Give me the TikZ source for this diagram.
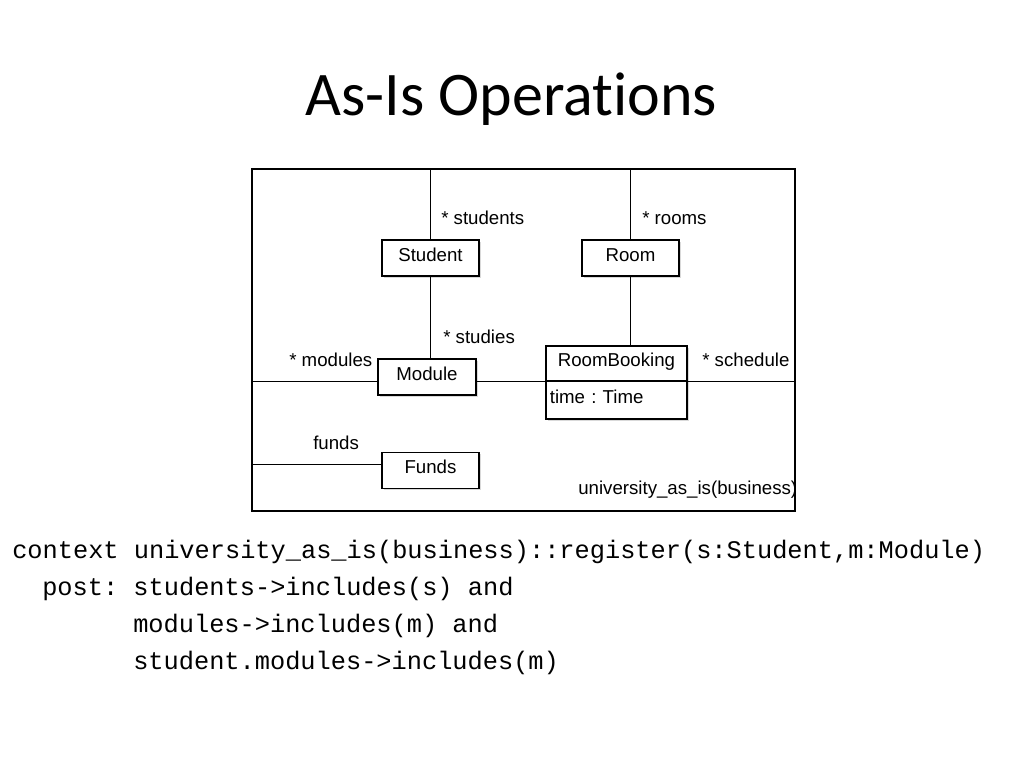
\documentclass[tikz,border=0pt]{standalone}
\usepackage{fontspec}
\setmainfont{Liberation Sans}
\newfontfamily\titlefont[Ligatures=NoCommon]{Carlito}
\newfontfamily\codefont[WordSpace={1,0,0}]{Liberation Mono}
\frenchspacing
\usetikzlibrary{shadows}
\tikzset{
  umlbox/.style={ draw, fill=white, line width=0.9pt, minimum width=72.75pt, minimum height=27pt, inner sep=0pt,
    text height=10.1pt, text depth=5.2pt, font=\fontsize{14}{16}\selectfont,
    drop shadow={shadow xshift=1.2pt, shadow yshift=-1.2pt, opacity=0.3} }
}
\tikzset{
  mult/.style={ inner sep=0pt, anchor=base west, font=\fontsize{14}{16}\selectfont }
}
\tikzset{
  codeline/.style={ inner sep=0pt, anchor=base west, font=\codefont\fontsize{19}{22}\selectfont }
}
\tikzset{
  assoc/.style={ line width=0.9pt }
}

\begin{document}
\begin{tikzpicture}[x=0.75pt, y=-0.75pt]
  \useasboundingbox (0,0) rectangle (1024,768);
  \node[font=\titlefont\fontsize{46.5}{50}\selectfont, anchor=base, inner sep=0pt] (title) at (511.5,115) {As-Is Operations};

  % package frame
  \node[draw, line width=1.1pt, minimum width=407.25pt, minimum height=256.5pt, inner sep=0pt] (frame) at (523.5,340) {};

  \node[umlbox] (student) at (430.5,258) {Student};
  \node[umlbox] (room) at (630.5,258) {Room};
  \node[umlbox, minimum width=73.5pt] (module) at (427,377) {Module};
  \node[umlbox, minimum width=105.75pt, minimum height=26.25pt] (rb) at (616.5,363.5) {RoomBooking};
  \node[umlbox, minimum width=105.75pt, minimum height=28.5pt, text width=100pt, align=left] (rbattr) at (616.5,400) {time : Time};
  \node[umlbox] (funds) at (430.5,470.5) {Funds};

  \draw[assoc] (student.north) -- (student.north |- frame.north);
  \draw[assoc] (student.south) -- (student.south |- module.north);
  \draw[assoc] (room.north) -- (room.north |- frame.north);
  \draw[assoc] (room.south) -- (room.south |- rb.north);
  \draw[assoc] (rb.south west -| module.west) -- (rb.south west -| frame.west);
  \draw[assoc] (rb.south west -| module.east) -- (rb.south west);
  \draw[assoc] (rb.south east) -- (rb.south east -| frame.east);
  \draw[assoc] ([yshift=4.5pt]funds.west) -- ([yshift=4.5pt]funds.west -| frame.west);

  \node[mult] (lstudents) at (441,224) {* students};
  \node[mult] (lrooms) at (642,224) {* rooms};
  \node[mult] (lstudies) at (443,343) {* studies};
  \node[mult] (lmodules) at (289,366) {* modules};
  \node[mult] (lschedule) at (702,366) {* schedule};
  \node[mult] (lfunds) at (313,449) {funds};
  \begin{scope}
    \clip (frame.south west) rectangle (frame.north east);
    \node[mult] (pkgname) at (578,494) {university\_as\_is(business)};
  \end{scope}

  \node[codeline] (ctx) at (12,558) {context university\_as\_is(business)::register(s:Student,m:Module)};
  \node[codeline] (post) at (42,595) {post: students->includes(s) and};
  \node[codeline] (post2) at (133,632) {modules->includes(m) and};
  \node[codeline] (post3) at (133,669) {student.modules->includes(m)};
\end{tikzpicture}
\end{document}
